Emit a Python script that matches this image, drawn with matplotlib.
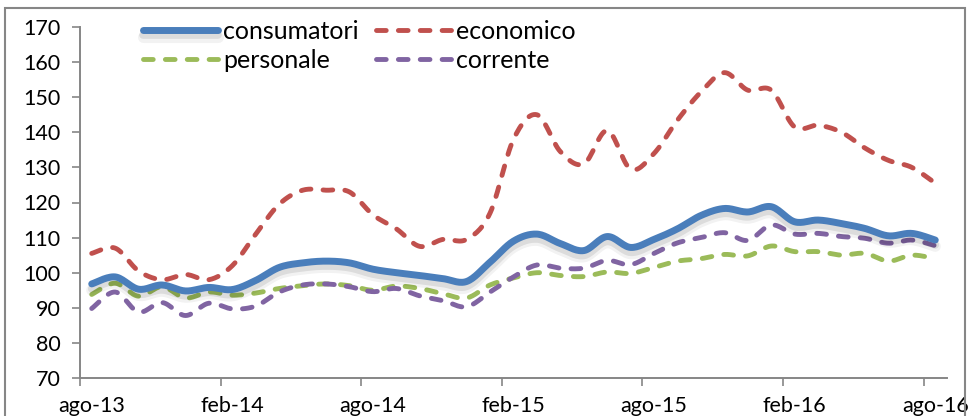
import numpy as np
import matplotlib
matplotlib.use("Agg")
import matplotlib.pyplot as plt
import matplotlib.patheffects as pe
from matplotlib.patches import Rectangle

plt.rcParams['font.family'] = ['Lato', 'DejaVu Sans']

# mesi da ago-13 ad ago-16
mesi = ['ago-13', 'set-13', 'ott-13', 'nov-13', 'dic-13', 'gen-14',
        'feb-14', 'mar-14', 'apr-14', 'mag-14', 'giu-14', 'lug-14',
        'ago-14', 'set-14', 'ott-14', 'nov-14', 'dic-14', 'gen-15',
        'feb-15', 'mar-15', 'apr-15', 'mag-15', 'giu-15', 'lug-15',
        'ago-15', 'set-15', 'ott-15', 'nov-15', 'dic-15', 'gen-16',
        'feb-16', 'mar-16', 'apr-16', 'mag-16', 'giu-16', 'lug-16',
        'ago-16']

consumatori = [96.8, 98.8, 95.3, 96.5, 94.8, 95.8, 95.2, 97.8, 101.5, 102.8,
               103.3, 102.8, 101.0, 100.0, 99.2, 98.3, 97.5, 103.0, 109.0, 111.0,
               108.3, 106.3, 110.3, 107.2, 109.5, 112.5, 116.3, 118.3, 117.3, 118.8,
               114.5, 115.0, 114.0, 112.6, 110.5, 111.2, 109.3]
economico = [105.5, 107.0, 100.5, 98.0, 99.5, 98.0, 102.0, 111.0, 119.5, 123.5,
             123.5, 123.0, 116.5, 112.5, 107.5, 109.5, 109.5, 117.0, 138.0, 145.0,
             134.5, 131.0, 140.5, 129.5, 134.0, 143.5, 151.5, 157.0, 152.0, 152.0,
             141.5, 142.0, 140.0, 135.5, 132.0, 130.0, 125.5]
personale = [93.8, 97.0, 93.3, 96.0, 92.8, 94.5, 93.6, 94.2, 95.5, 96.3,
             96.8, 96.3, 95.0, 96.2, 95.5, 94.0, 92.8, 96.5, 98.5, 100.0,
             99.2, 98.9, 100.2, 99.8, 101.5, 103.3, 104.0, 105.2, 104.8, 107.6,
             106.0, 106.0, 105.0, 105.5, 103.3, 105.0, 104.0]
corrente = [89.8, 94.5, 88.8, 91.5, 87.8, 91.3, 89.7, 90.5, 94.5, 96.5,
            96.8, 96.0, 94.6, 95.5, 93.4, 92.0, 90.3, 94.5, 98.8, 102.2,
            101.3, 101.3, 103.5, 102.3, 105.5, 108.5, 110.0, 111.4, 109.2, 113.6,
            111.0, 111.2, 110.3, 109.8, 108.4, 109.3, 107.7]


def smooth(y, n=16):
    # linea "smussata" stile Excel (Bezier con tangenti Catmull-Rom)
    y = np.asarray(y, dtype=float)
    x = np.arange(len(y), dtype=float)
    px = np.concatenate(([x[0]], x, [x[-1]]))
    py = np.concatenate(([y[0]], y, [y[-1]]))
    t = np.linspace(0, 1, n, endpoint=False)
    xs, ys = [], []
    for i in range(len(y) - 1):
        p0 = np.array([px[i + 1], py[i + 1]])
        p3 = np.array([px[i + 2], py[i + 2]])
        p1 = p0 + (p3 - np.array([px[i], py[i]])) / 6
        p2 = p3 - (np.array([px[i + 3], py[i + 3]]) - p0) / 6
        b = ((1 - t) ** 3)[:, None] * p0 + (3 * (1 - t) ** 2 * t)[:, None] * p1 \
            + (3 * (1 - t) * t ** 2)[:, None] * p2 + (t ** 3)[:, None] * p3
        xs.append(b[:, 0])
        ys.append(b[:, 1])
    xs.append([x[-1]])
    ys.append([y[-1]])
    return np.concatenate(xs), np.concatenate(ys)


fig = plt.figure(figsize=(9.68, 4.16), dpi=100)
ax = fig.add_axes([80 / 968, 1 - 378 / 416, 867 / 968, 351 / 416])

grey = '#868686'
dash_kw = dict(lw=3.5, dashes=(2.0, 2.5), dash_capstyle='round')

shadow = [pe.SimpleLineShadow(offset=(0, -4.5), shadow_color='#000000', alpha=0.05, linewidth=8),
          pe.SimpleLineShadow(offset=(0, -3.5), shadow_color='#000000', alpha=0.09, linewidth=5.5),
          pe.Normal()]

xs, ys = smooth(economico)
ax.plot(xs, ys, color='#C0504D', label='economico', **dash_kw)
xs, ys = smooth(personale)
ax.plot(xs, ys, color='#9BBB59', label='personale', **dash_kw)
xs, ys = smooth(corrente)
ax.plot(xs, ys, color='#8064A2', label='corrente', **dash_kw)
xs, ys = smooth(consumatori)
ax.plot(xs, ys, color='#4A7EBB', lw=5, solid_capstyle='round',
        label='consumatori', path_effects=shadow, zorder=3)

ax.set_xlim(-0.5, len(mesi) - 0.5)
ax.set_ylim(70, 170)
ax.set_yticks(np.arange(70, 171, 10))

idx = np.arange(0, len(mesi), 6)
ax.set_xticks(idx)
ax.set_xticklabels([mesi[i] for i in idx])
ax.set_xticks(idx - 0.5, minor=True)
ax.tick_params(axis='x', which='major', length=0, pad=13)
ax.tick_params(axis='x', which='minor', length=6, width=1.2, color=grey)
ax.tick_params(axis='y', length=6, width=1.2, color=grey, pad=8)
ax.tick_params(labelsize=15.5, labelcolor='black')

for s in ['top', 'right']:
    ax.spines[s].set_visible(False)
for s in ['left', 'bottom']:
    ax.spines[s].set_color(grey)
    ax.spines[s].set_linewidth(1.4)

h, l = ax.get_legend_handles_labels()
order = [3, 1, 0, 2]
ax.legend([h[i] for i in order], [l[i] for i in order], ncol=2, frameon=False,
          loc='upper left', bbox_to_anchor=(143 / 968, 1 - 20 / 416),
          bbox_transform=fig.transFigure, fontsize=18, handlelength=3.0,
          handletextpad=0.2, columnspacing=0.7, labelspacing=0.22,
          borderpad=0, borderaxespad=0)

# cornice esterna del grafico
fig.patches.append(Rectangle((5 / 968, -0.05), 960 / 968, 1.05 - 8 / 416,
                             transform=fig.transFigure, fill=False,
                             edgecolor=grey, lw=1.5))

fig.savefig('out.png', dpi=100)
